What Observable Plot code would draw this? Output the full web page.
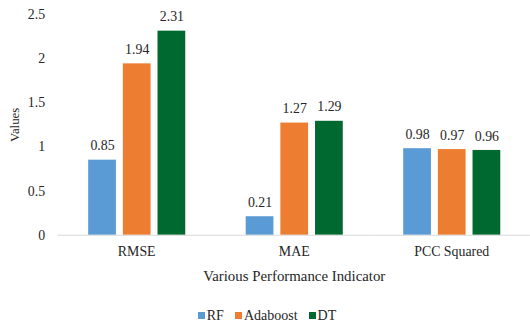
<!DOCTYPE html>
<html>
<head>
<meta charset="utf-8">
<script src="https://cdn.jsdelivr.net/npm/d3@7"></script>
<script src="https://cdn.jsdelivr.net/npm/@observablehq/plot@0.6"></script>
<style>
  html, body { margin: 0; padding: 0; background: #fff; overflow: hidden; }
  #chart { width: 530px; height: 324px; position: relative; }
  .legend { display: flex; justify-content: center; gap: 11px; margin-top: 11px; padding-left: 4px;
            font-family: "Liberation Serif", "Times New Roman", serif; font-size: 14px; color: #262626; line-height: 16px; }
  .legend span.item { display: inline-flex; align-items: center; gap: 2px; }
  .legend span.sw { display: inline-block; width: 7px; height: 7px; position: relative; top: -1px; }
</style>
</head>
<body>
<div id="chart"></div>
<script>
// Metrics (groups) and models (series)
const metrics = ["RMSE", "MAE", "PCC Squared"];
const models = ["RF", "Adaboost", "DT"];
const rfValues = [0.85, 0.21, 0.98];
const adaboostValues = [1.94, 1.27, 0.97];
const dtValues = [2.31, 1.29, 0.96];
const yTicks = [0, 0.5, 1, 1.5, 2, 2.5];
const colors = ["#5B9BD5", "#ED7D31", "#00692F"];

const series = [rfValues, adaboostValues, dtValues];
const data = [];
metrics.forEach((m, i) => {
  models.forEach((model, j) => data.push({metric: m, model, value: series[j][i]}));
});

const font = "'Liberation Serif', 'Times New Roman', serif";
const ink = "#262626";

const plot = Plot.plot({
  width: 535,
  height: 300,
  marginTop: 14,
  marginBottom: 63,
  marginLeft: 58,
  marginRight: 0,
  style: {fontFamily: font, fontSize: "14px", color: ink, background: "#fff", overflow: "visible"},
  fx: {domain: metrics, padding: 0, label: null},
  x: {domain: models, paddingInner: 0.2, paddingOuter: 0.87, axis: null},
  y: {domain: [0, 2.5], ticks: yTicks, label: null},
  color: {domain: models, range: colors},
  marks: [
    Plot.axisY({ticks: yTicks, tickSize: 0, tickPadding: 13, tickFormat: d => String(d),
      fontFamily: font, fontSize: 14, label: null}),
    Plot.axisY({ticks: [], tickSize: 0, label: "Values", labelAnchor: "center", labelArrow: "none",
      labelOffset: 49, fontFamily: font, fontSize: 13}),
    Plot.axisFx({anchor: "bottom", tickSize: 0, tickPadding: 11, fontFamily: font, fontSize: 14, label: null}),
    Plot.axisFx({anchor: "bottom", ticks: [], tickSize: 0,
      label: "Various Performance Indicator", labelAnchor: "center", labelOffset: 46,
      fontFamily: font, fontSize: 15}),
    Plot.barY(data, {fx: "metric", x: "model", y: "value", fill: "model"}),
    Plot.ruleY([0], {stroke: "#d9d9d9", strokeWidth: 1}),
    Plot.text(data, {fx: "metric", x: "model", y: "value", text: d => d.value.toFixed(2),
      dy: -10, lineAnchor: "bottom", fill: ink, fontSize: 14, fontFamily: font})
  ]
});

const chart = document.getElementById("chart");
chart.appendChild(plot);

// Legend below the plot
const legend = document.createElement("div");
legend.className = "legend";
models.forEach((m, i) => {
  const item = document.createElement("span");
  item.className = "item";
  const sw = document.createElement("span");
  sw.className = "sw";
  sw.style.background = colors[i];
  const label = document.createElement("span");
  label.textContent = m;
  item.appendChild(sw);
  item.appendChild(label);
  legend.appendChild(item);
});
chart.appendChild(legend);
</script>
</body>
</html>
